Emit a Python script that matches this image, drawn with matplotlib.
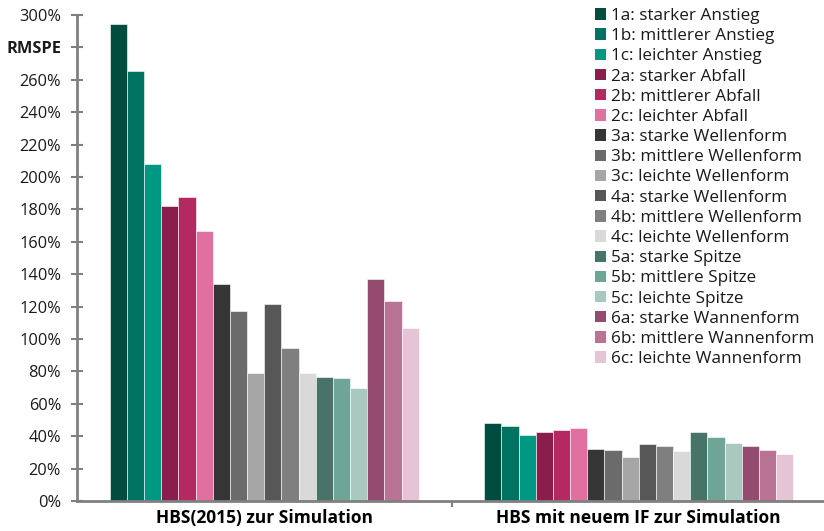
import numpy as np
import matplotlib.pyplot as plt
from matplotlib.patches import Patch

plt.rcParams['font.family'] = ['Open Sans', 'DejaVu Sans']

groups = ["HBS(2015) zur Simulation", "HBS mit neuem IF zur Simulation"]

series = ["1a: starker Anstieg", "1b: mittlerer Anstieg", "1c: leichter Anstieg",
          "2a: starker Abfall", "2b: mittlerer Abfall", "2c: leichter Abfall",
          "3a: starke Wellenform", "3b: mittlere Wellenform", "3c: leichte Wellenform",
          "4a: starke Wellenform", "4b: mittlere Wellenform", "4c: leichte Wellenform",
          "5a: starke Spitze", "5b: mittlere Spitze", "5c: leichte Spitze",
          "6a: starke Wannenform", "6b: mittlere Wannenform", "6c: leichte Wannenform"]

colors = ["#004d40", "#007262", "#009882",
          "#891d4b", "#b52962", "#e070a0",
          "#363636", "#6b6b6b", "#a6a6a6",
          "#575757", "#7f7f7f", "#d9d9d9",
          "#477368", "#6fa596", "#a9c9c0",
          "#954a70", "#b97394", "#e5c5d5"]

# RMSPE in percent, [HBS(2015), HBS neu IF]
hbs2015 = [294.5, 265.2, 207.8, 182.3, 187.5, 166.4,
           134.0, 117.1, 79.2, 121.6, 94.4, 78.8,
           76.3, 75.7, 69.5, 137.2, 123.3, 106.8]
hbs_if = [48.3, 46.3, 40.5, 42.6, 43.8, 45.3,
          31.9, 31.7, 27.0, 35.0, 34.0, 31.0,
          42.4, 39.5, 35.6, 34.0, 31.3, 29.2]

fig = plt.figure(figsize=(8.24, 5.31), dpi=100)
ax = fig.add_axes([77 / 824, 30 / 531, 749 / 824, 486 / 531])

n = len(series)
group_w = 0.825
w = group_w / n
x = np.arange(len(groups))
for i in range(n):
    pos = x - group_w / 2 + w * (i + 0.5)
    ax.bar(pos, [hbs2015[i], hbs_if[i]], width=w, color=colors[i],
           edgecolor='white', linewidth=0.4, zorder=2)

ax.set_xlim(-0.5, 1.5)
ax.set_ylim(0, 300)
yt = np.arange(0, 301, 20)
ax.set_yticks(yt)
ax.set_yticklabels(["RMSPE" if v == 280 else f"{v}%" for v in yt], fontsize=11.8)
for lab in ax.get_yticklabels():
    if lab.get_text() == "RMSPE":
        lab.set_fontweight('bold')

ax.set_xticks(x)
ax.set_xticklabels(groups, fontsize=12.5, fontweight='bold')
ax.tick_params(axis='x', which='major', length=0, pad=6)
ax.set_xticks([0.5], minor=True)
ax.tick_params(axis='x', which='minor', length=4, width=1.5, color='#808080')
ax.tick_params(axis='y', direction='inout', length=9, width=1.5, color='#808080', pad=7,
               labelcolor='#1a1a1a')

for s in ['top', 'right']:
    ax.spines[s].set_visible(False)
for s in ['left', 'bottom']:
    ax.spines[s].set_color('#808080')
    ax.spines[s].set_linewidth(2)

handles = [Patch(facecolor=c, edgecolor='none') for c in colors]
fig.legend(handles, series, loc='upper left', bbox_to_anchor=(595 / 824, 1 - 8 / 531),
           frameon=False, fontsize=12.3, handlelength=0.65, handleheight=0.65,
           handletextpad=0.3, labelspacing=0.245, borderpad=0, borderaxespad=0,
           labelcolor='#1a1a1a')

fig.savefig("out.png", dpi=100)
